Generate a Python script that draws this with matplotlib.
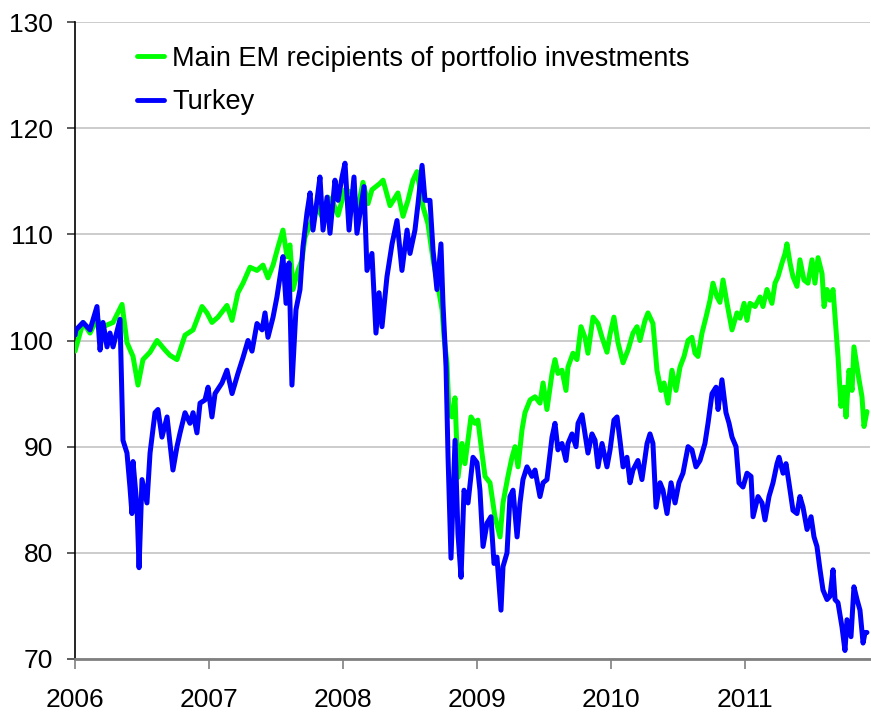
import matplotlib
matplotlib.use('Agg')
import matplotlib.pyplot as plt

plt.rcParams['font.family'] = ['Liberation Sans', 'DejaVu Sans']

# ---------------- data ----------------
series_names = ['Main EM recipients of portfolio investments', 'Turkey']

em_dates = [2006.000, 2006.060, 2006.112, 2006.164, 2006.209, 2006.284, 2006.351, 2006.388, 2006.433,
            2006.470, 2006.507, 2006.560, 2006.612, 2006.672, 2006.709, 2006.761, 2006.821, 2006.881,
            2006.948, 2006.985, 2007.022, 2007.067, 2007.134, 2007.172, 2007.216, 2007.254, 2007.306,
            2007.358, 2007.403, 2007.440, 2007.478, 2007.515, 2007.552, 2007.582, 2007.604, 2007.627,
            2007.664, 2007.694, 2007.716, 2007.754, 2007.806, 2007.851, 2007.888, 2007.925, 2007.963,
            2008.015, 2008.075, 2008.112, 2008.149, 2008.187, 2008.216, 2008.276, 2008.299, 2008.351,
            2008.410, 2008.448, 2008.485, 2008.522, 2008.552, 2008.597, 2008.634, 2008.672, 2008.701,
            2008.739, 2008.754, 2008.776, 2008.791, 2008.813, 2008.836, 2008.858, 2008.888, 2008.910,
            2008.955, 2008.985, 2009.007, 2009.037, 2009.060, 2009.097, 2009.134, 2009.172, 2009.194,
            2009.231, 2009.261, 2009.284, 2009.306, 2009.336, 2009.358, 2009.396, 2009.433, 2009.470,
            2009.493, 2009.522, 2009.560, 2009.582, 2009.604, 2009.634, 2009.664, 2009.679, 2009.716,
            2009.746, 2009.776, 2009.806, 2009.828, 2009.866, 2009.903, 2009.933, 2009.970, 2009.993,
            2010.022, 2010.052, 2010.090, 2010.127, 2010.164, 2010.194, 2010.216, 2010.254, 2010.276,
            2010.313, 2010.343, 2010.373, 2010.396, 2010.425, 2010.455, 2010.485, 2010.515, 2010.545,
            2010.575, 2010.604, 2010.627, 2010.649, 2010.679, 2010.709, 2010.739, 2010.761, 2010.791,
            2010.813, 2010.836, 2010.866, 2010.903, 2010.940, 2010.963, 2010.993, 2011.015, 2011.037,
            2011.075, 2011.112, 2011.134, 2011.164, 2011.201, 2011.224, 2011.246, 2011.276, 2011.299,
            2011.313, 2011.336, 2011.358, 2011.388, 2011.410, 2011.440, 2011.470, 2011.500, 2011.522,
            2011.545, 2011.575, 2011.590, 2011.612, 2011.634, 2011.657, 2011.679, 2011.694, 2011.716,
            2011.739, 2011.754, 2011.776, 2011.799, 2011.813, 2011.836, 2011.851, 2011.873, 2011.888,
            2011.910]
em_values = [99.0, 101.7, 100.7, 102.0, 101.3, 101.7, 103.4, 99.8, 98.5,
             95.8, 98.2, 98.9, 100.0, 99.1, 98.6, 98.2, 100.5, 101.0,
             103.2, 102.6, 101.7, 102.2, 103.3, 101.9, 104.5, 105.4, 106.9,
             106.6, 107.1, 105.9, 107.1, 108.8, 110.4, 107.9, 109.0, 104.8,
             106.6, 107.6, 109.7, 110.9, 112.5, 111.5, 113.5, 113.0, 111.8,
             114.2, 113.9, 112.5, 114.9, 112.9, 114.2, 114.8, 115.1, 112.7,
             113.9, 111.7, 113.2, 115.1, 115.9, 112.6, 111.0, 107.6, 105.7,
             102.9, 100.3, 97.9, 93.2, 92.8, 94.6, 87.1, 90.3, 88.4,
             92.8, 92.2, 92.5, 89.4, 87.2, 86.6, 83.4, 81.5, 84.7,
             87.2, 89.0, 90.0, 88.1, 91.6, 93.2, 94.4, 94.7, 94.1,
             96.0, 93.5, 96.9, 98.2, 96.9, 97.2, 95.3, 97.5, 98.8,
             98.2, 101.3, 100.3, 98.8, 102.2, 101.6, 100.3, 98.9, 100.6,
             102.2, 99.8, 97.9, 99.1, 100.7, 101.3, 100.0, 101.9, 102.6,
             101.6, 97.2, 95.3, 96.0, 94.1, 97.2, 95.3, 97.5, 98.5,
             100.0, 100.3, 98.8, 98.5, 100.7, 102.2, 103.8, 105.4, 104.1,
             103.6, 105.7, 103.5, 101.0, 102.6, 102.1, 103.5, 101.9, 103.5,
             103.2, 104.1, 103.2, 104.8, 103.5, 105.4, 106.0, 107.3, 108.2,
             109.1, 107.3, 106.0, 105.1, 107.6, 105.7, 105.4, 107.6, 105.4,
             107.8, 106.3, 103.2, 104.8, 103.8, 104.8, 101.0, 98.5, 93.8,
             95.6, 92.8, 97.2, 95.3, 99.4, 97.5, 96.3, 94.7, 91.9,
             93.3]

tr_dates = [2006.000, 2006.007, 2006.060, 2006.112, 2006.164, 2006.187, 2006.209, 2006.239, 2006.261,
            2006.284, 2006.336, 2006.358, 2006.388, 2006.410, 2006.425, 2006.433, 2006.463, 2006.478,
            2006.500, 2006.537, 2006.560, 2006.597, 2006.619, 2006.649, 2006.687, 2006.709, 2006.731,
            2006.761, 2006.784, 2006.821, 2006.858, 2006.881, 2006.910, 2006.933, 2006.970, 2006.993,
            2007.022, 2007.045, 2007.097, 2007.134, 2007.172, 2007.216, 2007.254, 2007.291, 2007.321,
            2007.358, 2007.396, 2007.418, 2007.440, 2007.478, 2007.507, 2007.530, 2007.552, 2007.575,
            2007.597, 2007.619, 2007.649, 2007.679, 2007.701, 2007.731, 2007.754, 2007.776, 2007.806,
            2007.828, 2007.851, 2007.881, 2007.903, 2007.940, 2007.963, 2007.993, 2008.015, 2008.045,
            2008.082, 2008.104, 2008.134, 2008.157, 2008.179, 2008.216, 2008.246, 2008.269, 2008.291,
            2008.328, 2008.366, 2008.403, 2008.440, 2008.478, 2008.500, 2008.537, 2008.560, 2008.590,
            2008.612, 2008.649, 2008.672, 2008.701, 2008.731, 2008.746, 2008.769, 2008.784, 2008.806,
            2008.836, 2008.858, 2008.881, 2008.903, 2008.933, 2008.970, 2009.000, 2009.022, 2009.045,
            2009.075, 2009.104, 2009.127, 2009.149, 2009.179, 2009.194, 2009.224, 2009.246, 2009.269,
            2009.299, 2009.321, 2009.343, 2009.373, 2009.410, 2009.433, 2009.470, 2009.493, 2009.522,
            2009.560, 2009.582, 2009.604, 2009.634, 2009.664, 2009.679, 2009.709, 2009.739, 2009.754,
            2009.784, 2009.806, 2009.828, 2009.858, 2009.881, 2009.903, 2009.933, 2009.970, 2009.993,
            2010.022, 2010.045, 2010.067, 2010.090, 2010.119, 2010.142, 2010.164, 2010.201, 2010.231,
            2010.269, 2010.291, 2010.313, 2010.336, 2010.366, 2010.388, 2010.418, 2010.448, 2010.478,
            2010.507, 2010.537, 2010.575, 2010.604, 2010.634, 2010.664, 2010.701, 2010.724, 2010.754,
            2010.784, 2010.799, 2010.828, 2010.858, 2010.881, 2010.903, 2010.933, 2010.955, 2010.985,
            2011.015, 2011.045, 2011.060, 2011.097, 2011.127, 2011.149, 2011.179, 2011.209, 2011.239,
            2011.254, 2011.284, 2011.306, 2011.328, 2011.358, 2011.388, 2011.410, 2011.433, 2011.463,
            2011.493, 2011.515, 2011.537, 2011.560, 2011.582, 2011.612, 2011.634, 2011.657, 2011.672,
            2011.694, 2011.724, 2011.746, 2011.761, 2011.791, 2011.813, 2011.836, 2011.858, 2011.881,
            2011.896, 2011.910]
tr_values = [100.5, 101.0, 101.7, 101.0, 103.2, 99.1, 101.7, 99.4, 100.7,
             99.4, 102.0, 90.6, 89.4, 86.2, 83.7, 88.6, 84.3, 78.6,
             86.9, 84.7, 89.4, 93.2, 93.5, 90.9, 92.8, 90.3, 87.8,
             90.0, 91.3, 93.2, 92.2, 93.2, 91.3, 94.1, 94.4, 95.6,
             92.8, 95.0, 96.0, 97.2, 95.0, 96.9, 98.4, 100.0, 99.0,
             101.6, 101.0, 102.6, 100.3, 102.2, 104.1, 106.0, 107.9, 103.5,
             107.3, 95.8, 102.9, 104.8, 108.8, 112.0, 113.9, 110.4, 113.2,
             115.4, 110.4, 113.5, 110.1, 115.1, 113.2, 115.4, 116.7, 110.4,
             115.4, 110.1, 112.6, 114.5, 106.6, 108.2, 100.7, 104.5, 101.3,
             106.0, 109.1, 111.3, 106.6, 110.4, 108.2, 110.4, 112.9, 116.5,
             113.2, 113.2, 108.5, 104.8, 109.1, 103.5, 97.5, 89.0, 79.5,
             90.6, 81.8, 77.7, 85.9, 84.7, 89.0, 88.5, 85.9, 80.6,
             82.8, 83.4, 79.0, 79.6, 74.6, 78.7, 80.0, 85.3, 85.9,
             81.5, 84.7, 86.9, 88.1, 87.2, 87.8, 85.3, 86.6, 86.9,
             90.9, 92.2, 89.7, 90.3, 88.7, 90.3, 91.2, 90.0, 92.2,
             93.0, 91.2, 89.4, 91.2, 90.6, 88.1, 90.3, 88.1, 89.7,
             92.5, 92.8, 90.6, 88.1, 89.0, 86.6, 87.8, 88.7, 86.9,
             90.3, 91.2, 90.3, 84.3, 86.6, 85.9, 83.7, 86.6, 84.7,
             86.6, 87.5, 90.0, 89.7, 88.1, 88.7, 90.3, 92.2, 95.0,
             95.6, 93.5, 96.3, 93.2, 92.2, 90.9, 90.0, 86.6, 86.2,
             87.5, 87.2, 83.4, 85.3, 84.7, 83.1, 85.3, 86.6, 88.4,
             89.0, 87.5, 88.4, 86.6, 84.0, 83.7, 85.3, 84.3, 82.2,
             83.4, 81.5, 80.6, 78.4, 76.5, 75.6, 75.9, 78.4, 75.6,
             75.3, 73.0, 70.8, 73.7, 72.1, 76.8, 75.6, 74.6, 71.5,
             72.5, 72.5]

y_ticks = [70, 80, 90, 100, 110, 120, 130]
x_ticks = [2006, 2007, 2008, 2009, 2010, 2011]
x_labels = ['2006', '2007', '2008', '2009', '2010', '2011']

# ---------------- figure ----------------
W, H = 871, 720
fig = plt.figure(figsize=(W / 100, H / 100), dpi=100)
ax = fig.add_axes([75 / W, 1 - 659 / H, (870 - 75) / W, (659 - 22) / H])

ax.plot(em_dates, em_values, color='#00FF00', lw=3.6, solid_joinstyle='round',
        solid_capstyle='round', label=series_names[0], zorder=3)
ax.plot(tr_dates, tr_values, color='#0000FF', lw=3.6, solid_joinstyle='round',
        solid_capstyle='round', label=series_names[1], zorder=4)

ax.set_xlim(2006, 2006 + (870 - 75) / 134)
ax.set_ylim(70, 130)
ax.set_yticks(y_ticks)
ax.set_xticks(x_ticks)
ax.set_xticklabels(x_labels)

ax.grid(axis='y', color='#C8C8C8', lw=1.3)
ax.grid(axis='x', visible=False)
ax.set_axisbelow(True)

for s in ['top', 'right']:
    ax.spines[s].set_visible(False)
ax.spines['left'].set_color('black')
ax.spines['left'].set_linewidth(1.2)
ax.spines['bottom'].set_color('#808080')
ax.spines['bottom'].set_linewidth(2.0)
ax.spines['bottom'].set_zorder(5)

ax.tick_params(axis='y', direction='out', length=6, width=1.2, color='#404040',
               labelsize=19, pad=10, labelcolor='black')
ax.tick_params(axis='x', direction='out', length=7, width=1.2, color='#808080',
               labelsize=19, pad=14, labelcolor='black')

leg = ax.legend(loc='upper left', bbox_to_anchor=(0.078, 0.963), frameon=False,
                fontsize=19.5, handlelength=1.0, handletextpad=0.3,
                labelspacing=0.65, borderpad=0.0, borderaxespad=0.0)
for line in leg.get_lines():
    line.set_linewidth(3.5)

fig.savefig('out.png', dpi=100)
